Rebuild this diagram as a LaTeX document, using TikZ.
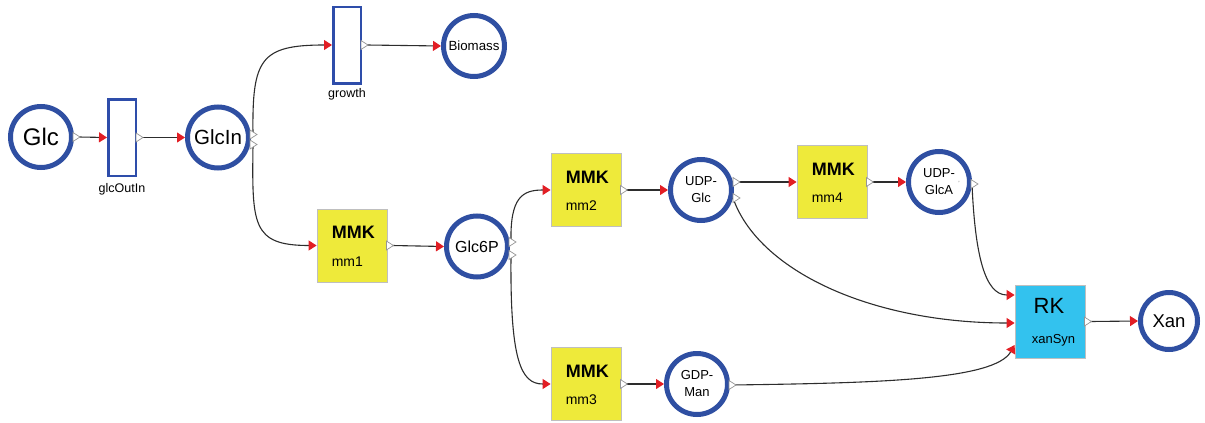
\documentclass[tikz,border=0pt]{standalone}
\usepackage{fontspec}
\setmainfont{Liberation Sans}
\usetikzlibrary{arrows.meta,calc}
\definecolor{ringblue}{RGB}{47,79,162}
\definecolor{rectblue}{RGB}{46,77,170}
\definecolor{mmkyellow}{RGB}{238,234,58}
\definecolor{rkcyan}{RGB}{51,194,238}
\definecolor{arrred}{RGB}{226,30,36}
\definecolor{edgec}{RGB}{45,45,45}
\definecolor{portc}{RGB}{150,150,150}
\newcommand\portmark[2]{\filldraw[portst] ($(#1)+(-1,#2-4.5)$) -- ($(#1)+(6,#2)$) -- ($(#1)+(-1,#2+4.5)$) -- cycle;}
\tikzset{
  species/.style={circle, draw=ringblue, line width=5pt, fill=white, inner sep=0pt,
    minimum size=61pt, align=center, font=\fontsize{13}{17}\selectfont},
  rxn/.style={rectangle, draw=rectblue, line width=2.5pt, fill=white, inner sep=0pt,
    minimum width=27.5pt, minimum height=76.5pt},
  rxnlbl/.style={inner sep=0pt, anchor=north, font=\fontsize{12.5}{14}\selectfont},
  mmk/.style={rectangle, draw=black!25, line width=0.8pt, fill=mmkyellow, inner sep=0pt,
    minimum width=70pt, minimum height=73pt},
  rk/.style={rectangle, draw=black!25, line width=0.8pt, fill=rkcyan, inner sep=0pt,
    minimum width=70pt, minimum height=73pt},
  mmkt/.style={inner sep=0pt, anchor=west, font=\fontsize{18}{18}\selectfont\bfseries},
  mmkn/.style={inner sep=0pt, anchor=west, font=\fontsize{14}{14}\selectfont},
  edge/.style={draw=edgec, line width=1.1pt, -{Triangle[length=8pt,width=10pt,color=arrred]}},
  portst/.style={fill=white, draw=portc, line width=0.7pt, line join=miter},
}
\begin{document}
\begin{tikzpicture}[x=1pt,y=-1pt]
\useasboundingbox (0,0) rectangle (1205,423);
% species
\node[species, font=\fontsize{24}{24}\selectfont] (Glc) at (41,137) {Glc};
\node[rxn] (glcOutIn) at (122,137.5) {};
\node[rxnlbl] (glcOutInL) at (122,183) {glcOutIn};
\node[species, font=\fontsize{20.5}{20}\selectfont] (GlcIn) at (218,137.5) {GlcIn};
\node[rxn] (growth) at (347,45) {};
\node[rxnlbl] (growthL) at (347,88) {growth};
\node[species, font=\fontsize{13.3}{16}\selectfont] (Biomass) at (474,46) {Biomass};
\node[mmk] (mm1) at (352,245.5) {};
\node[mmkt] (mm1a) at ($(mm1.west)+(15,-13)$) {MMK};
\node[mmkn] (mm1b) at ($(mm1.west)+(15,16)$) {mm1};
\node[species, font=\fontsize{16}{16}\selectfont] (Glc6P) at (477,246.5) {Glc6P};
\node[mmk] (mm2) at (586,190) {};
\node[mmkt] (mm2a) at ($(mm2.west)+(15,-13)$) {MMK};
\node[mmkn] (mm2b) at ($(mm2.west)+(15,16)$) {mm2};
\node[species] (UDPGlc) at (701,190) {UDP-\\Glc};
\node[mmk] (mm4) at (832,182) {};
\node[mmkt] (mm4a) at ($(mm4.west)+(15,-13)$) {MMK};
\node[mmkn] (mm4b) at ($(mm4.west)+(15,16)$) {mm4};
\node[species] (UDPGlcA) at (939,182) {UDP-\\GlcA};
\node[inner sep=0pt, font=\fontsize{6}{6}\selectfont, text=black!60] (tick) at (959,183) {'};
\node[mmk] (mm3) at (586,384) {};
\node[mmkt] (mm3a) at ($(mm3.west)+(15,-13)$) {MMK};
\node[mmkn] (mm3b) at ($(mm3.west)+(15,16)$) {mm3};
\node[species] (GDPMan) at (697,384) {GDP-\\Man};
\node[rk] (xanSyn) at (1050,321.5) {};
\node[inner sep=0pt, anchor=base, font=\fontsize{22}{22}\selectfont] (rkT) at ($(xanSyn.center)+(-1,-8.5)$) {RK};
\node[inner sep=0pt, anchor=base, font=\fontsize{13}{13}\selectfont] (rkN) at ($(xanSyn.center)+(3.5,21.5)$) {xanSyn};
\node[species, minimum size=57pt, font=\fontsize{18.5}{18}\selectfont] (Xan) at (1169,321) {Xan};
% straight connectors
\draw[edge] ($(Glc.east)+(5,0)$) -- (glcOutIn.west);
\draw[edge] ($(glcOutIn.east)+(5,0)$) -- (GlcIn.west);
\draw[edge] ($(growth.east)+(5,0)$) -- (Biomass.west);
\draw[edge] ($(mm1.east)+(5,0)$) -- (Glc6P.west);
\draw[edge] ($(mm2.east)+(5,0)$) -- (UDPGlc.west);
\draw[edge] ($(UDPGlc.east)+(5,-8)$) -- (mm4.west);
\draw[edge] ($(mm4.east)+(5,0)$) -- (UDPGlcA.west);
\draw[edge] ($(mm3.east)+(5,0)$) -- (GDPMan.west);
\draw[edge] ($(xanSyn.east)+(5,0)$) -- (Xan.west);
% curved connectors
\draw[edge] ($(GlcIn.east)+(2,-3)$) .. controls +(-1,-75) and +(-72,0) .. (growth.west);
\draw[edge] ($(GlcIn.east)+(2,7)$) .. controls +(-1,80) and +(-65,0) .. (mm1.west);
\draw[edge] ($(Glc6P.east)+(1,-4.5)$) .. controls +(-1,-45) and +(-28,0) .. (mm2.west);
\draw[edge] ($(Glc6P.east)+(1,8.5)$) .. controls +(-1,105) and +(-30,0) .. (mm3.west);
\draw[edge] ($(UDPGlc.east)+(-1,8)$) .. controls +(25,72) and +(-145,0) .. ($(xanSyn.west)+(0,1.5)$);
\draw[edge] ($(UDPGlcA.east)+(0,2)$) .. controls +(3,70) and +(-30,0) .. ($(xanSyn.west)+(0,-26.5)$);
\draw[edge] ($(GDPMan.east)+(2,1)$) .. controls +(147,-2) and +(-20,35) .. ($(xanSyn.west)+(0,23.5)$);
% port markers
\portmark{Glc.east}{0}
\portmark{glcOutIn.east}{0}
\portmark{GlcIn.east}{-3}
\portmark{GlcIn.east}{7}
\portmark{growth.east}{0}
\portmark{mm1.east}{0}
\portmark{Glc6P.east}{-4.5}
\portmark{Glc6P.east}{8.5}
\portmark{mm2.east}{0}
\portmark{mm3.east}{0}
\portmark{UDPGlc.east}{-8}
\portmark{UDPGlc.east}{8}
\portmark{mm4.east}{0}
\portmark{UDPGlcA.east}{2}
\portmark{GDPMan.east}{1}
\portmark{xanSyn.east}{0}
\end{tikzpicture}
\end{document}
